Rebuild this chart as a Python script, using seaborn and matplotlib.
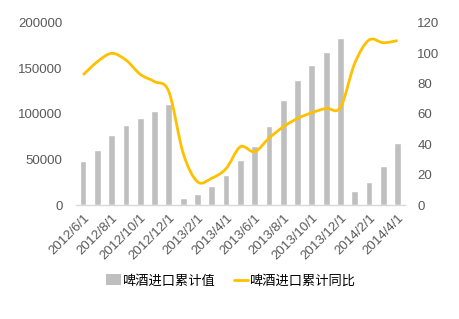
import matplotlib
matplotlib.use("Agg")
import matplotlib.pyplot as plt
from matplotlib.path import Path
from matplotlib.patches import PathPatch, Patch
from matplotlib.lines import Line2D
import seaborn as sns
import pandas as pd
import numpy as np

months = ["2012/6/1", "2012/7/1", "2012/8/1", "2012/9/1", "2012/10/1", "2012/11/1", "2012/12/1",
          "2013/1/1", "2013/2/1", "2013/3/1", "2013/4/1", "2013/5/1", "2013/6/1", "2013/7/1",
          "2013/8/1", "2013/9/1", "2013/10/1", "2013/11/1", "2013/12/1",
          "2014/1/1", "2014/2/1", "2014/3/1", "2014/4/1"]
cum_value = [48000, 60000, 77000, 88000, 95500, 103000, 111000,
             7700, 12000, 21000, 33000, 49500, 64700, 86700,
             115200, 137100, 153600, 168000, 183000,
             15400, 25200, 43000, 68000]
cum_yoy = [85.6, 94.3, 99.8, 95.4, 86.0, 81.2, 74.6,
           34.2, 15.4, 17.7, 24.0, 38.4, 35.1, 44.0,
           51.5, 57.0, 60.8, 63.6, 64.3,
           93.3, 108.6, 106.8, 108.2]
label_bar = "啤酒进口累计值"
label_line = "啤酒进口累计同比"

sns.set_theme(style="white")
plt.rcParams['font.family'] = ['Noto Sans CJK SC', 'DejaVu Sans']

df = pd.DataFrame({"month": months, "value": cum_value, "yoy": cum_yoy})

fig = plt.figure(figsize=(4.6, 3.19), dpi=100)
ax = fig.add_axes([0.165, 0.357, 0.715, 0.572])
sns.barplot(data=df, x="month", y="value", color="#BFBFBF", saturation=1, width=0.47, ax=ax)
ax.set_ylim(0, 200000)
ax.set_yticks(range(0, 200001, 50000))
ax.set_xlim(-0.5, len(months) - 0.5)
ax.set_xlabel("")
ax.set_ylabel("")
for s in ["top", "left", "right"]:
    ax.spines[s].set_visible(False)
ax.spines["bottom"].set_color("#D9D9D9")
ax.spines["bottom"].set_linewidth(1)
ax.tick_params(axis="both", length=0, colors="#595959", labelsize=9.5)
ax.set_xticks(range(0, len(months), 2))
ax.set_xticklabels(months[::2], rotation=45, ha="right", rotation_mode="anchor",
                   family=['Liberation Sans', 'DejaVu Sans'])
for t in ax.get_yticklabels():
    t.set_family(['Liberation Sans', 'DejaVu Sans'])
ax.tick_params(axis="y", pad=9.5)
ax.tick_params(axis="x", pad=5)

ax2 = ax.twinx()
ax2.set_ylim(0, 120)
ax2.set_yticks(range(0, 121, 20))
for s in ax2.spines.values():
    s.set_visible(False)
ax2.tick_params(axis="y", length=0, colors="#595959", labelsize=9.5, pad=9)
for t in ax2.get_yticklabels():
    t.set_family(['Liberation Sans', 'DejaVu Sans'])

# smoothed line (Catmull-Rom -> cubic Bezier) through the data points
xs = np.arange(len(cum_yoy), dtype=float)
ys = np.array(cum_yoy, dtype=float)
pts = np.column_stack([xs, ys])
verts = [pts[0]]
codes = [Path.MOVETO]
n = len(pts)
for i in range(n - 1):
    p0 = pts[i - 1] if i > 0 else pts[i]
    p1 = pts[i]
    p2 = pts[i + 1]
    p3 = pts[i + 2] if i + 2 < n else pts[i + 1]
    c1 = p1 + (p2 - p0) / 6.0
    c2 = p2 - (p3 - p1) / 6.0
    verts += [c1, c2, p2]
    codes += [Path.CURVE4] * 3
ax2.add_patch(PathPatch(Path(verts, codes), facecolor="none", edgecolor="#FFC000", lw=2))
ax2.set_xlim(-0.5, len(months) - 0.5)

handles = [Patch(facecolor="#BFBFBF", edgecolor="none", label=label_bar),
           Line2D([], [], color="#FFC000", lw=2, label=label_line)]
fig.legend(handles=handles, loc="center", bbox_to_anchor=(0.502, 1 - 281 / 319), ncol=2,
           frameon=False, fontsize=9.5, handlelength=1.1, handleheight=0.9,
           handletextpad=0.1, columnspacing=1.4, labelcolor="#000000")

fig.savefig("out.png", dpi=100)
